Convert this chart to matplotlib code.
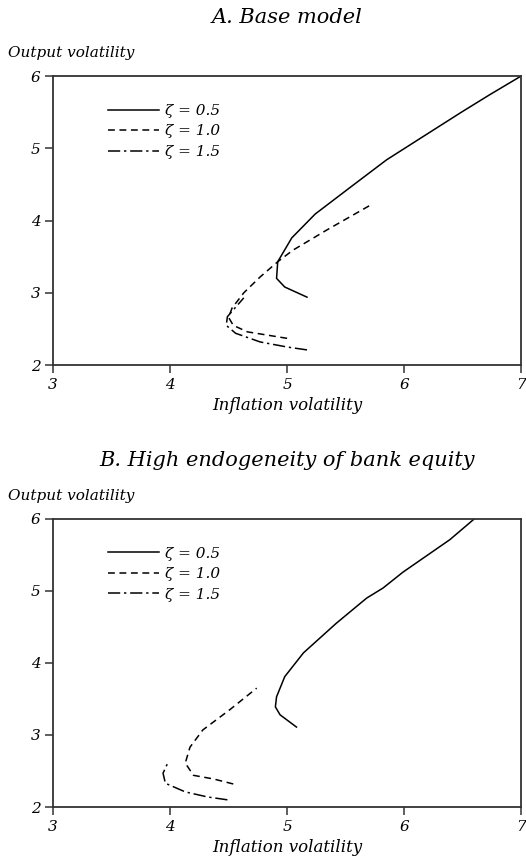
import matplotlib
matplotlib.use("Agg")
import matplotlib.pyplot as plt

# ---------------- data ----------------
labels = ["\u03b6 = 0.5", "\u03b6 = 1.0", "\u03b6 = 1.5"]

# Panel A: base model
a05_x = [5.17, 4.98, 4.91, 4.92, 5.04, 5.24, 5.54, 5.85, 6.16, 6.49, 6.73, 7.00]
a05_y = [2.94, 3.08, 3.20, 3.43, 3.76, 4.09, 4.46, 4.84, 5.16, 5.50, 5.74, 6.00]
a10_x = [5.00, 4.66, 4.54, 4.50, 4.53, 4.63, 4.77, 4.92, 5.05, 5.34, 5.73]
a10_y = [2.37, 2.46, 2.55, 2.66, 2.79, 3.00, 3.22, 3.43, 3.59, 3.87, 4.23]
a15_x = [5.17, 5.00, 4.77, 4.56, 4.48, 4.49, 4.63]
a15_y = [2.21, 2.25, 2.32, 2.44, 2.55, 2.67, 2.93]

# Panel B: high endogeneity of bank equity
b05_x = [5.08, 4.94, 4.90, 4.91, 4.98, 5.14, 5.42, 5.68, 5.82, 5.99, 6.39, 6.60]
b05_y = [3.11, 3.28, 3.39, 3.53, 3.81, 4.14, 4.55, 4.90, 5.04, 5.26, 5.71, 6.00]
b10_x = [4.54, 4.37, 4.20, 4.13, 4.17, 4.28, 4.51, 4.74]
b10_y = [2.32, 2.39, 2.44, 2.61, 2.83, 3.07, 3.35, 3.65]
b15_x = [4.49, 4.32, 4.13, 3.96, 3.94, 3.98]
b15_y = [2.10, 2.14, 2.21, 2.33, 2.47, 2.61]

titles = ["A. Base model", "B. High endogeneity of bank equity"]
x_ticks = [3, 4, 5, 6, 7]
y_ticks = [2, 3, 4, 5, 6]
xlabel = "Inflation volatility"
ylabel = "Output volatility"

# ---------------- plot ----------------
plt.rcParams["font.family"] = ["DejaVu Serif"]
plt.rcParams["font.style"] = "italic"

fig = plt.figure(figsize=(5.26, 8.59), dpi=100)
ax_a = fig.add_axes([0.1008, 0.575, 0.890, 0.3365])
ax_b = fig.add_axes([0.1008, 0.0605, 0.890, 0.3355])

styles = [dict(linestyle="-"),
          dict(linestyle=(0, (4.5, 3))),
          dict(linestyle=(0, (8, 2.5, 1.5, 2.5)))]

panels = [
    (ax_a, [(a05_x, a05_y), (a10_x, a10_y), (a15_x, a15_y)]),
    (ax_b, [(b05_x, b05_y), (b10_x, b10_y), (b15_x, b15_y)]),
]

for (ax, series), title in zip(panels, titles):
    for (xs, ys), lab, st in zip(series, labels, styles):
        ax.plot(xs, ys, color="black", lw=1.1, label=lab, **st)
    ax.set_xlim(3, 7)
    ax.set_ylim(2, 6)
    ax.set_xticks(x_ticks)
    ax.set_yticks(y_ticks)
    ax.set_xticklabels([str(t) for t in x_ticks], fontsize=11, style="italic")
    ax.set_yticklabels([str(t) for t in y_ticks], fontsize=11, style="italic")
    ax.tick_params(direction="out", length=6, width=1.1, color="#333333",
                   top=False, right=False, pad=3)
    for sp in ax.spines.values():
        sp.set_linewidth(1.3)
        sp.set_color("#333333")
    ax.set_xlabel(xlabel, fontsize=12, style="italic", labelpad=4)
    ax.text(-0.097, 1.08, ylabel, transform=ax.transAxes, fontsize=11,
            style="italic", ha="left", va="center")
    ax.set_title(title, fontsize=15, style="italic", pad=38)
    leg = ax.legend(loc="upper left", bbox_to_anchor=(0.095, 0.94),
                    frameon=False, fontsize=11, handlelength=3.3,
                    handletextpad=0.4, labelspacing=0.42, borderpad=0.2)

fig.savefig("out.png", dpi=100)
